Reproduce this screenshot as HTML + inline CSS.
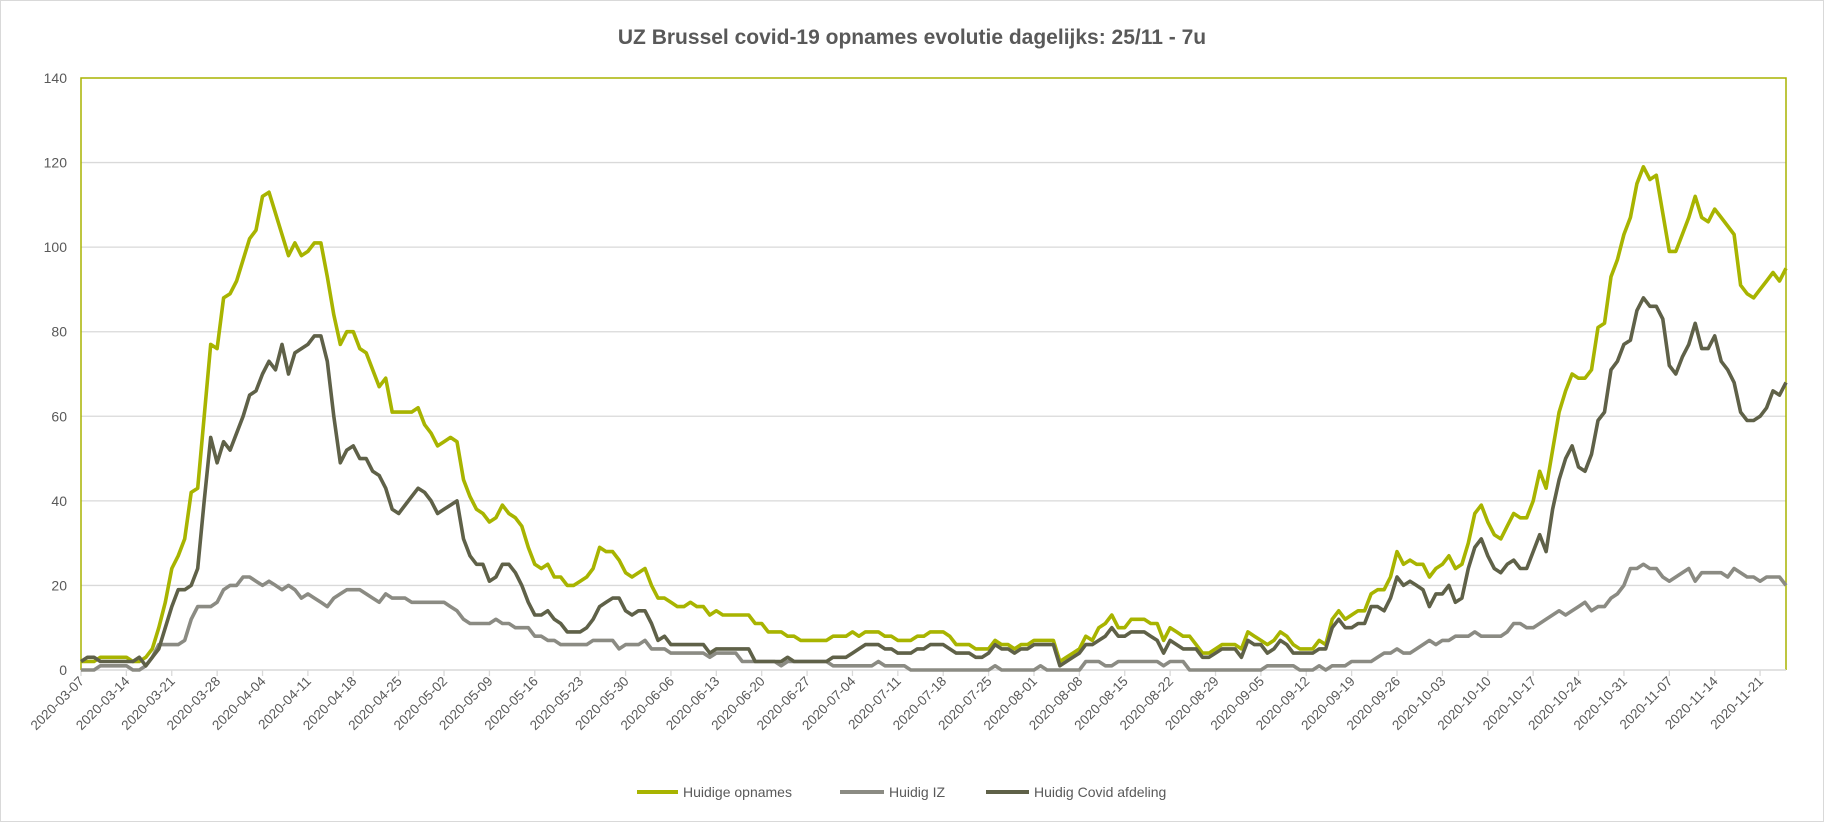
<!DOCTYPE html>
<html><head><meta charset="utf-8"><style>
body{margin:0;background:#fff;}
svg{display:block;font-family:"Liberation Sans",Arial,sans-serif;}
</style></head><body>
<svg id="chart" width="1824" height="822" viewBox="0 0 1824 822" xmlns="http://www.w3.org/2000/svg">
<rect x="0.5" y="0.5" width="1823" height="821" fill="#fff" stroke="#d9d9d9"/>
<text x="912" y="44" text-anchor="middle" font-size="21" font-weight="bold" fill="#595959">UZ Brussel covid-19 opnames evolutie dagelijks: 25/11 - 7u</text>
<g id="grid"></g><g id="yaxis"></g><g id="xaxis"></g><g id="series"></g>
<g>
<g><line x1="637" y1="792" x2="678" y2="792" stroke="#a8b400" stroke-width="4"/><text x="683" y="797" font-size="14" fill="#595959">Huidige opnames</text></g>
<g><line x1="840" y1="792" x2="884" y2="792" stroke="#8b8b83" stroke-width="4"/><text x="889" y="797" font-size="14" fill="#595959">Huidig IZ</text></g>
<g><line x1="986" y1="792" x2="1029" y2="792" stroke="#5f6148" stroke-width="4"/><text x="1034" y="797" font-size="14" fill="#595959">Huidig Covid afdeling</text></g>
</g>
</svg>
<script>
const startDate = "2020-03-07";
const yTicks = [0,20,40,60,80,100,120,140];
const opnames = [2,2,2,3,3,3,3, 3,2,2,3,5,10,16, 24,27,31,42,43,60,77, 76,88,89,92,97,102,104, 112,113,108,103,98,101,98, 99,101,101,93,84,77,80, 80,76,75,71,67,69,61, 61,61,61,62,58,56,53, 54,55,54,45,41,38,37, 35,36,39,37,36,34,29, 25,24,25,22,22,20,20, 21,22,24,29,28,28,26, 23,22,23,24,20,17,17, 16,15,15,16,15,15,13, 14,13,13,13,13,13,11, 11,9,9,9,8,8,7, 7,7,7,7,8,8,8, 9,8,9,9,9,8,8, 7,7,7,8,8,9,9, 9,8,6,6,6,5,5, 5,7,6,6,5,6,6, 7,7,7,7,2,3,4, 5,8,7,10,11,13,10, 10,12,12,12,11,11,7, 10,9,8,8,6,4,4, 5,6,6,6,5,9,8, 7,6,7,9,8,6,5, 5,5,7,6,12,14,12, 13,14,14,18,19,19,22, 28,25,26,25,25,22,24, 25,27,24,25,30,37,39, 35,32,31,34,37,36,36, 40,47,43,52,61,66,70, 69,69,71,81,82,93,97, 103,107,115,119,116,117,108, 99,99,103,107,112,107,106, 109,107,105,103,91,89,88, 90,92,94,92,95];
const iz = [0,0,0,1,1,1,1, 1,0,0,1,3,6,6, 6,6,7,12,15,15,15, 16,19,20,20,22,22,21, 20,21,20,19,20,19,17, 18,17,16,15,17,18,19, 19,19,18,17,16,18,17, 17,17,16,16,16,16,16, 16,15,14,12,11,11,11, 11,12,11,11,10,10,10, 8,8,7,7,6,6,6, 6,6,7,7,7,7,5, 6,6,6,7,5,5,5, 4,4,4,4,4,4,3, 4,4,4,4,2,2,2, 2,2,2,1,2,2,2, 2,2,2,2,1,1,1, 1,1,1,1,2,1,1, 1,1,0,0,0,0,0, 0,0,0,0,0,0,0, 0,1,0,0,0,0,0, 0,1,0,0,0,0,0, 0,2,2,2,1,1,2, 2,2,2,2,2,2,1, 2,2,2,0,0,0,0, 0,0,0,0,0,0,0, 0,1,1,1,1,1,0, 0,0,1,0,1,1,1, 2,2,2,2,3,4,4, 5,4,4,5,6,7,6, 7,7,8,8,8,9,8, 8,8,8,9,11,11,10, 10,11,12,13,14,13,14, 15,16,14,15,15,17,18, 20,24,24,25,24,24,22, 21,22,23,24,21,23,23, 23,23,22,24,23,22,22, 21,22,22,22,20];
const afdeling = [2,3,3,2,2,2,2, 2,2,3,1,3,5,10, 15,19,19,20,24,40,55, 49,54,52,56,60,65,66, 70,73,71,77,70,75,76, 77,79,79,73,60,49,52, 53,50,50,47,46,43,38, 37,39,41,43,42,40,37, 38,39,40,31,27,25,25, 21,22,25,25,23,20,16, 13,13,14,12,11,9,9, 9,10,12,15,16,17,17, 14,13,14,14,11,7,8, 6,6,6,6,6,6,4, 5,5,5,5,5,5,2, 2,2,2,2,3,2,2, 2,2,2,2,3,3,3, 4,5,6,6,6,5,5, 4,4,4,5,5,6,6, 6,5,4,4,4,3,3, 4,6,5,5,4,5,5, 6,6,6,6,1,2,3, 4,6,6,7,8,10,8, 8,9,9,9,8,7,4, 7,6,5,5,5,3,3, 4,5,5,5,3,7,6, 6,4,5,7,6,4,4, 4,4,5,5,10,12,10, 10,11,11,15,15,14,17, 22,20,21,20,19,15,18, 18,20,16,17,24,29,31, 27,24,23,25,26,24,24, 28,32,28,38,45,50,53, 48,47,51,59,61,71,73, 77,78,85,88,86,86,83, 72,70,74,77,82,76,76, 79,73,71,68,61,59,59, 60,62,66,65,68];

const NS="http://www.w3.org/2000/svg";
const L=81,R=1786,T=78,B=670,yMax=140;
const n=opnames.length;
function xs(i){return L+(R-L)*i/(n-1);}
function ys(v){return B-(B-T)*v/yMax;}
function mk(tag,attrs,parent){const e=document.createElementNS(NS,tag);for(const k in attrs)e.setAttribute(k,attrs[k]);parent.appendChild(e);return e;}
const grid=document.getElementById('grid'),ya=document.getElementById('yaxis'),xa=document.getElementById('xaxis'),se=document.getElementById('series');
yTicks.forEach(v=>{
  if(v>0&&v<yMax){const g=mk('line',{x1:L,x2:R,y1:ys(v),y2:ys(v),stroke:'#d9d9d9','stroke-width':1.3},grid);
  
  }
  const t=mk('text',{x:L-14,y:ys(v)+5,'text-anchor':'end','font-size':14,fill:'#595959'},ya);
  
  
  t.textContent=v;
});
const fr=mk('path',{d:`M${L},${B} L${L},${T} L${R},${T} L${R},${B}`,fill:'none',stroke:'#a8b400','stroke-width':1.5},grid);


const ax=mk('line',{x1:L,x2:R,y1:B,y2:B,stroke:'#d9d9d9','stroke-width':1.5},xa);


const d0=new Date(startDate+"T00:00:00Z");
for(let i=0;i<n;i+=7){
  const x=xs(i);
  const tk=mk('line',{x1:x,x2:x,y1:B,y2:B+6,stroke:'#d9d9d9','stroke-width':1.3},xa);
  
  
  const d=new Date(d0.getTime()+i*86400000);
  const lab=d.toISOString().slice(0,10);
  const t=mk('text',{x:x+4,y:B+12,'text-anchor':'end','font-size':13.5,fill:'#595959',transform:`rotate(-45 ${x+4} ${B+12})`},xa);
  
  
  t.textContent=lab;
}
function line(arr,color,name){
  const p=mk('polyline',{points:arr.map((v,i)=>xs(i).toFixed(1)+','+ys(v).toFixed(1)).join(' '),fill:'none',stroke:color,'stroke-width':3.6,'stroke-linejoin':'round'},se);
  
  
}
line(iz,'#8b8b83','series-huidig-iz');
line(opnames,'#a8b400','series-huidige-opnames');
line(afdeling,'#5f6148','series-huidig-covid-afdeling');
</script>
</body></html>
